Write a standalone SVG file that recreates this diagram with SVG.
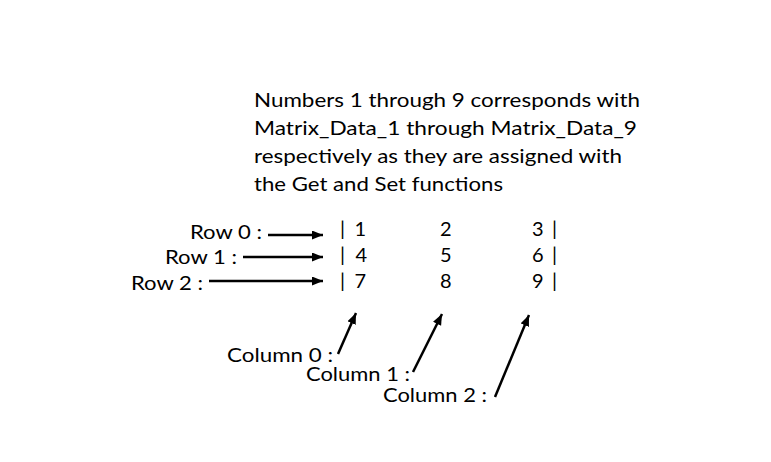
<svg xmlns="http://www.w3.org/2000/svg" width="771" height="462" viewBox="0 0 771 462">
<style>
text{font-family:Lato,"Open Sans","Liberation Sans",sans-serif;font-size:20px;fill:#000}
.c{stroke:#000;stroke-width:2.5;fill:none}
</style>
<defs>
<marker id="ah" markerUnits="userSpaceOnUse" markerWidth="12" markerHeight="10" refX="11" refY="4.5" orient="auto">
<path d="M0,0 L11,4.5 L0,9 z" fill="#000"/>
</marker>
</defs>
<rect width="771" height="462" fill="#fff"/>
<g id="note">
<text x="254" y="107" textLength="386" lengthAdjust="spacingAndGlyphs">Numbers 1 through 9 corresponds with</text>
<text x="254" y="135" textLength="383" lengthAdjust="spacingAndGlyphs">Matrix_Data_1 through Matrix_Data_9</text>
<text x="254" y="163" textLength="368" lengthAdjust="spacingAndGlyphs">respectively as they are assigned with</text>
<text x="254" y="191" textLength="249" lengthAdjust="spacingAndGlyphs">the Get and Set functions</text>
</g>
<g id="row-labels">
<text x="190" y="239" textLength="72" lengthAdjust="spacingAndGlyphs">Row 0 :</text>
<text x="165" y="264" textLength="72" lengthAdjust="spacingAndGlyphs">Row 1 :</text>
<text x="131" y="290" textLength="72" lengthAdjust="spacingAndGlyphs">Row 2 :</text>
</g>
<g id="matrix">
<text x="340" y="236" textLength="26" lengthAdjust="spacing">| 1</text>
<text x="440" y="236">2</text>
<text x="532" y="236" textLength="25" lengthAdjust="spacing">3 |</text>
<text x="340" y="262" textLength="27" lengthAdjust="spacing">| 4</text>
<text x="440" y="262">5</text>
<text x="532" y="262" textLength="25" lengthAdjust="spacing">6 |</text>
<text x="340" y="288" textLength="26" lengthAdjust="spacing">| 7</text>
<text x="440" y="288">8</text>
<text x="532" y="288" textLength="25" lengthAdjust="spacing">9 |</text>
</g>
<g id="column-labels">
<text x="227" y="362" textLength="106" lengthAdjust="spacingAndGlyphs">Column 0 :</text>
<text x="306" y="381" textLength="104" lengthAdjust="spacingAndGlyphs">Column 1 :</text>
<text x="383" y="402" textLength="104" lengthAdjust="spacingAndGlyphs">Column 2 :</text>
</g>
<g id="connectors">
<line class="c" x1="268" y1="235" x2="323" y2="235" marker-end="url(#ah)"/>
<line class="c" x1="243" y1="257" x2="323" y2="257" marker-end="url(#ah)"/>
<line class="c" x1="209" y1="281" x2="323" y2="281" marker-end="url(#ah)"/>
<line class="c" x1="338" y1="354" x2="356" y2="313" marker-end="url(#ah)"/>
<line class="c" x1="413" y1="372" x2="442" y2="314" marker-end="url(#ah)"/>
<line class="c" x1="495" y1="397" x2="529" y2="315" marker-end="url(#ah)"/>
</g>
</svg>
